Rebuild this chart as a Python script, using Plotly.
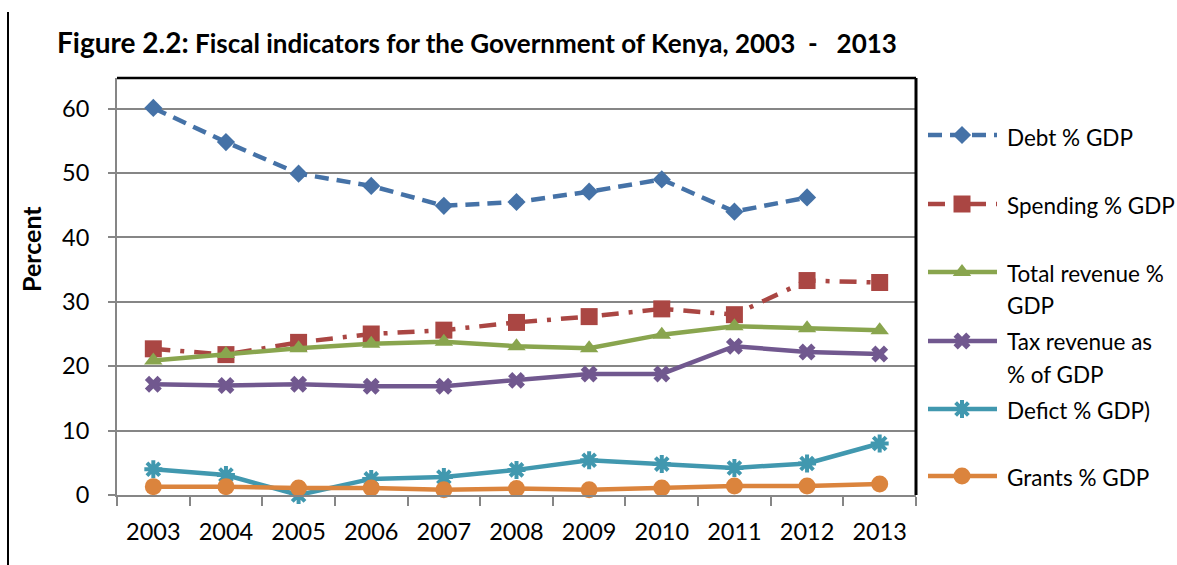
import plotly.graph_objects as go

W, H = 1177, 565

years = ["2003", "2004", "2005", "2006", "2007", "2008", "2009", "2010", "2011", "2012", "2013"]
debt = [60.1, 54.8, 49.9, 48.0, 44.9, 45.5, 47.1, 49.0, 44.0, 46.2, None]
spending = [22.7, 21.8, 23.7, 25.0, 25.6, 26.8, 27.7, 28.9, 28.0, 33.3, 33.0]
total_revenue = [20.9, 21.9, 22.8, 23.5, 23.8, 23.1, 22.8, 24.9, 26.2, 25.9, 25.6]
tax_revenue = [17.2, 17.0, 17.2, 16.9, 16.9, 17.8, 18.8, 18.8, 23.1, 22.2, 21.9]
deficit = [4.0, 3.1, 0.0, 2.5, 2.8, 3.9, 5.4, 4.8, 4.2, 4.9, 8.0]
grants = [1.3, 1.3, 1.1, 1.1, 0.8, 1.0, 0.8, 1.1, 1.4, 1.4, 1.7]

# series styling: name lines, values, colour, dash, marker symbol, marker size
series = [
    (["Debt % GDP"], debt, "#4572A7", "14px,8px", "diamond", 14),
    (["Spending % GDP"], spending, "#AA4643", "17px,10px,4px,10px", "square", 17),
    (["Total revenue %", "GDP"], total_revenue, "#89A54E", "solid", "triangle-up", 16),
    (["Tax revenue as", "% of GDP"], tax_revenue, "#71588F", "solid", "x", 15),
    (["Defict % GDP)"], deficit, "#4198AF", "solid", "asterisk-open", 15),
    (["Grants % GDP"], grants, "#DB843D", "solid", "circle", 17),
]

# legend layout in pixels (swatch row centres and text line centres)
legend_rows = [135, 204, 272, 341, 409, 476]
legend_lines = [[137], [205], [273, 305], [341, 374], [410], [477]]
swatch_x = [928, 962, 997]
text_x = 1005

plot_left, plot_right, plot_top, plot_bottom = 117, 916, 78, 495
y_per_px = 10 / 64.4
y_max = (plot_bottom - plot_top) * y_per_px

fig = go.Figure()

for names, vals, color, dash, sym, size in series:
    is_open = sym.endswith("open")
    marker = dict(symbol=sym, size=size, color=color,
                  line=dict(width=4 if is_open else 0, color=color))
    fig.add_trace(go.Scatter(
        x=years, y=vals, mode="lines+markers", name=" ".join(names),
        line=dict(color=color, width=4.5, dash=dash),
        marker=marker, cliponaxis=False, showlegend=False,
        connectgaps=False,
    ))

# legend swatches drawn on a pixel-scaled overlay axis
for (names, vals, color, dash, sym, size), row in zip(series, legend_rows):
    is_open = sym.endswith("open")
    fig.add_trace(go.Scatter(
        x=swatch_x, y=[row] * 3, mode="lines", xaxis="x2", yaxis="y2",
        line=dict(color=color, width=4.5, dash=dash), showlegend=False,
        hoverinfo="skip", cliponaxis=False,
    ))
    fig.add_trace(go.Scatter(
        x=[swatch_x[1]], y=[row], mode="markers", xaxis="x2", yaxis="y2",
        marker=dict(symbol=sym, size=size, color=color,
                    line=dict(width=4 if is_open else 0, color=color)),
        showlegend=False, hoverinfo="skip", cliponaxis=False,
    ))

annotations = []
for (names, *_), ys in zip(series, legend_lines):
    for txt, yy in zip(names, ys):
        annotations.append(dict(
            text=txt, x=text_x / W, y=1 - yy / H, xref="paper", yref="paper",
            xanchor="left", yanchor="middle", showarrow=False,
            font=dict(family="Lato", size=22.5, color="black"),
        ))

annotations.append(dict(
    text="<b><span style='font-size:28px'>Figure 2.2:</span> Fiscal indicators for the "
         "Government of Kenya, 2003\u00a0\u00a0-\u00a0\u00a0 2013</b>",
    x=55 / W, y=1 - 42 / H, xref="paper", yref="paper",
    xanchor="left", yanchor="middle", showarrow=False,
    font=dict(family="Lato", size=26, color="black"),
))
annotations.append(dict(
    text="<b>Percent</b>", x=31 / W, y=1 - 249 / H, xref="paper", yref="paper",
    xanchor="center", yanchor="middle", textangle=-90, showarrow=False,
    font=dict(family="Lato", size=25, color="black"),
))

grid = "#868686"
fig.update_layout(
    template="none",
    width=W, height=H,
    margin=dict(l=0, r=0, t=0, b=0),
    paper_bgcolor="white", plot_bgcolor="white",
    font=dict(family="Lato", size=23, color="black"),
    xaxis=dict(
        domain=[plot_left / W, plot_right / W], type="category",
        range=[-0.5, len(years) - 0.5], tickson="boundaries",
        showline=True, linecolor=grid, linewidth=2,
        ticks="outside", ticklen=9, tickwidth=2, tickcolor=grid,
        showgrid=False, zeroline=False, automargin=False,
        tickfont=dict(family="Lato", size=23.5, color="black"),
        ticklabelstandoff=15,
    ),
    yaxis=dict(
        domain=[1 - plot_bottom / H, 1 - plot_top / H],
        range=[0, y_max], tickvals=[0, 10, 20, 30, 40, 50, 60],
        showline=True, linecolor=grid, linewidth=2,
        ticks="outside", ticklen=7, tickwidth=2, tickcolor=grid,
        showgrid=True, gridcolor=grid, gridwidth=2, zeroline=False,
        automargin=False,
        tickfont=dict(family="Lato", size=23.5, color="black"),
        ticklabelstandoff=14,
    ),
    xaxis2=dict(domain=[plot_right / W, 1], range=[plot_right, W], anchor="y2",
                visible=False, fixedrange=True),
    yaxis2=dict(domain=[0, 1], range=[H, 0], anchor="x2",
                visible=False, fixedrange=True),
    annotations=annotations,
    shapes=[
        # black frame on top and right of the plot area
        dict(type="line", xref="x domain", yref="y domain", x0=0, x1=1, y0=1, y1=1,
             line=dict(color="black", width=2.5)),
        dict(type="line", xref="x domain", yref="y domain", x0=1, x1=1, y0=0, y1=1,
             line=dict(color="black", width=3)),
        # page rule on the left
        dict(type="line", xref="paper", yref="paper", x0=8 / W, x1=8 / W,
             y0=0, y1=1 - 12 / H, line=dict(color="black", width=2)),
    ],
    showlegend=False,
)

fig.write_html("out.html")
